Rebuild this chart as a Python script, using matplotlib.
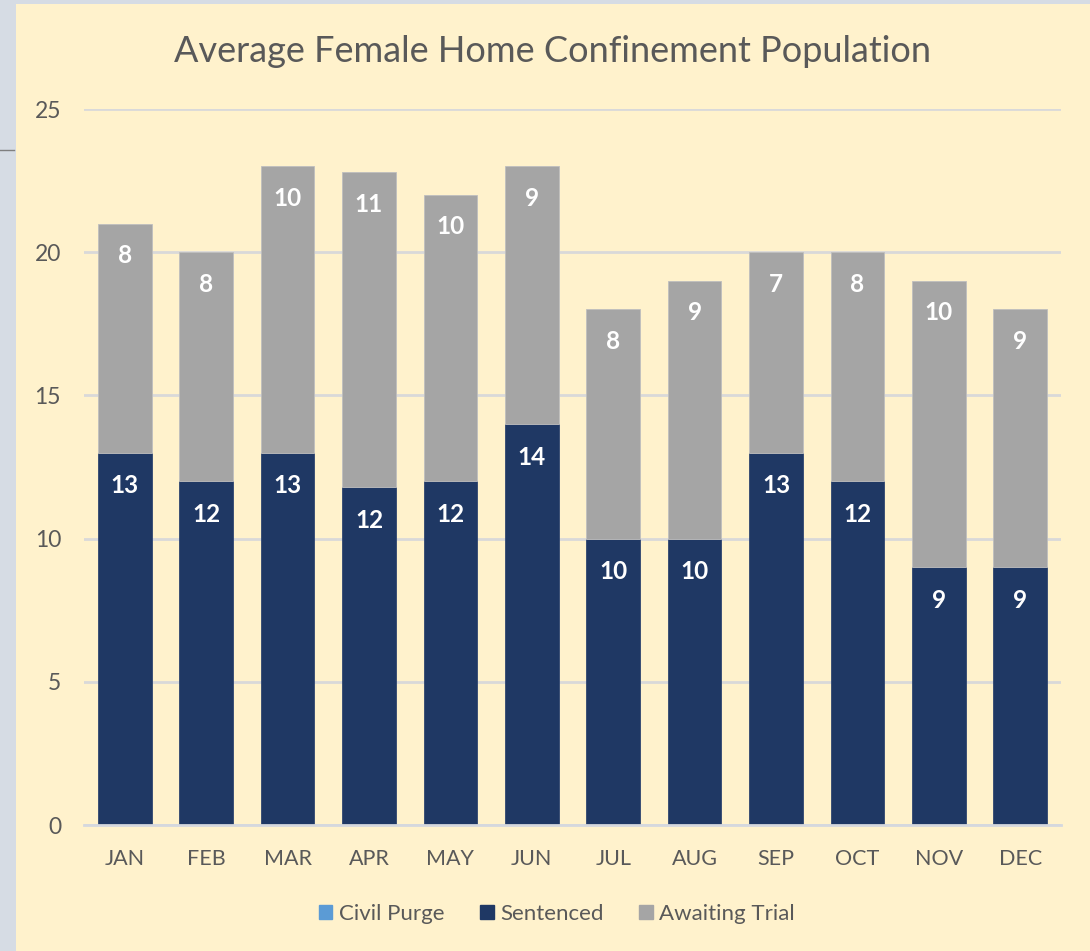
import matplotlib
matplotlib.use("Agg")
import matplotlib.pyplot as plt
from matplotlib.patches import Rectangle
from matplotlib.lines import Line2D
import numpy as np

months = ["JAN", "FEB", "MAR", "APR", "MAY", "JUN", "JUL", "AUG", "SEP", "OCT", "NOV", "DEC"]
civil_purge = [0, 0, 0, 0, 0, 0, 0, 0, 0, 0, 0, 0]
sentenced = [13, 12, 13, 11.8, 12, 14, 10, 10, 13, 12, 9, 9]
awaiting = [8, 8, 10, 11, 10, 9, 8, 9, 7, 8, 10, 9]
title = "Average Female Home Confinement Population"
yticks = [0, 5, 10, 15, 20, 25]

FONT = ["Lato", "DejaVu Sans"]
plt.rcParams["font.family"] = FONT

W, H = 1090, 951
fig = plt.figure(figsize=(W / 100, H / 100), dpi=100)
fig.patch.set_facecolor("#FFF2CC")
fig.patches.append(Rectangle((0, 0), 16 / W, 1, transform=fig.transFigure,
                             facecolor="#D6DCE4", edgecolor="none", zorder=-10))
fig.patches.append(Rectangle((0, 1 - 4 / H), 1, 4 / H, transform=fig.transFigure,
                             facecolor="#D6DCE4", edgecolor="none", zorder=-10))
fig.lines.append(Line2D([0, 14 / W], [1 - 149.5 / H, 1 - 149.5 / H], transform=fig.transFigure,
                        color="#7F7F7F", linewidth=1, zorder=-5))

ax = fig.add_axes([84 / W, 1 - 825 / H, (1061 - 84) / W, (825 - 109) / H])
ax.set_facecolor("none")

x = np.arange(len(months))
bw = 0.66
sent = np.array(sentenced, dtype=float)
awt = np.array(awaiting, dtype=float)
cp = np.array(civil_purge, dtype=float)

ax.bar(x, cp, bw, color="#5B9BD5", label="Civil Purge", zorder=3)
ax.bar(x, sent, bw, bottom=cp, color="#1F3864", label="Sentenced", zorder=3,
       edgecolor="#2F4670", linewidth=0.6)
ax.bar(x, awt, bw, bottom=cp + sent, color="#A5A5A5", label="Awaiting Trial", zorder=3,
       edgecolor="#BFBFBF", linewidth=0.6)

px = 25 / (825 - 109)  # data units per pixel
for i in range(len(months)):
    ax.text(x[i], cp[i] + sent[i] - 33 * px, f"{sent[i]:.0f}", ha="center", va="center",
            color="white", fontsize=17.5, fontweight="bold", zorder=4)
    ax.text(x[i], cp[i] + sent[i] + awt[i] - 32 * px, f"{awt[i]:.0f}", ha="center", va="center",
            color="white", fontsize=17.5, fontweight="bold", zorder=4)

ax.set_xlim(-0.5, len(months) - 0.5)
ax.set_ylim(0, 25)
ax.set_yticks(yticks)
ax.set_xticks(x)
ax.set_xticklabels(months)
ax.yaxis.grid(True, color="#D9D9D9", linewidth=2, zorder=0)
ax.set_axisbelow(True)
for s in ["top", "right", "left"]:
    ax.spines[s].set_visible(False)
ax.spines["bottom"].set_color("#D5D8DE")
ax.spines["bottom"].set_linewidth(2)
ax.spines["bottom"].set_zorder(5)
ax.tick_params(axis="both", length=0, colors="#595959")
ax.tick_params(axis="y", pad=16.5, labelsize=16.5)
ax.tick_params(axis="x", pad=17, labelsize=15.5)

fig.text(553 / W, 1 - 51 / H, title, ha="center", va="center", fontsize=26, color="#595959")

handles = [Rectangle((0, 0), 1, 1, color=c) for c in ["#5B9BD5", "#1F3864", "#A5A5A5"]]
fig.legend(handles, ["Civil Purge", "Sentenced", "Awaiting Trial"], loc="center",
           bbox_to_anchor=(557 / W, 1 - 914 / H), ncol=3, frameon=False, fontsize=16,
           handlelength=0.6, handleheight=0.6, handletextpad=0.3, columnspacing=1.6,
           labelcolor="#595959")

fig.savefig("out.png", dpi=100, facecolor=fig.get_facecolor())
